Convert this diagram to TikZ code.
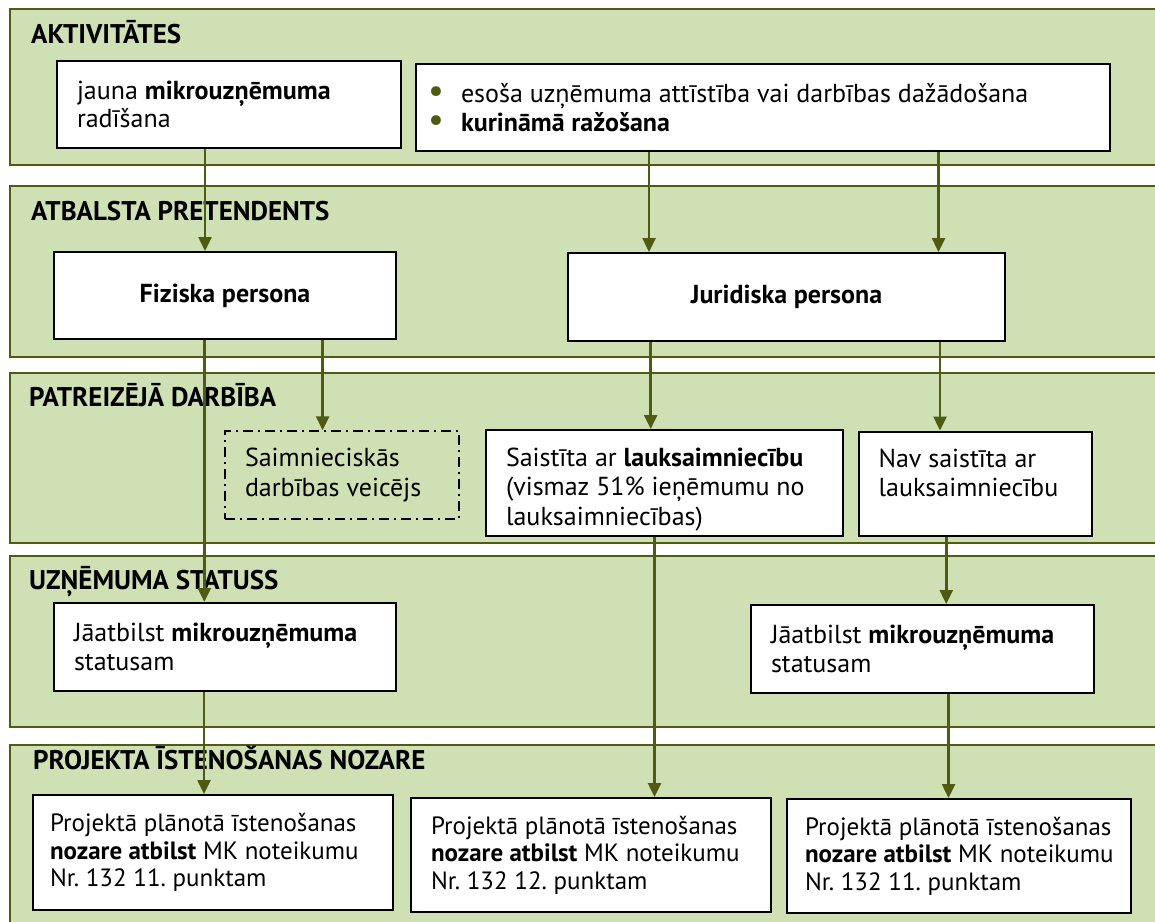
\documentclass[tikz,border=0pt]{standalone}
\usepackage{fontspec}
\setmainfont{PT Sans}
\usetikzlibrary{arrows.meta}
\definecolor{bandfill}{HTML}{CFE0B4}
\definecolor{olivel}{HTML}{4F5B12}
\newcommand{\mybul}{\makebox[33pt][l]{\raisebox{0pt}[0pt][0pt]{\textcolor{olivel}{\scalebox{1.35}{•}}}}}
\newcommand{\bxl}{\spaceskip=0pt\xspaceskip=0pt\leftskip=0pt\rightskip=0pt plus 1fil\parfillskip=0pt plus 1fil\relax}
\begin{document}
\frenchspacing
\begin{tikzpicture}[x=1pt,y=-1pt,
  band/.style={fill=bandfill,draw=olivel,line width=2pt},
  box/.style={draw=black,fill=white,line width=2pt,inner xsep=20pt,inner ysep=0pt,align=left,
    font=\fontsize{26}{29.5}\selectfont},
  cbox/.style={draw=black,fill=white,line width=2pt,inner sep=0pt,align=center,
    font=\fontsize{26}{29.5}\selectfont\bfseries},
  pbox/.style={box,font=\fontsize{25}{27.5}\selectfont},
  dbox/.style={box,fill=none,line width=1.4pt,dash pattern=on 10pt off 5pt on 2pt off 5pt},
  arr/.style={draw=olivel,line width=2.5pt,-{Triangle[width=13pt,length=14pt]}},
  lane/.style={anchor=base west,inner sep=0pt,font=\fontsize{27}{30}\selectfont\bfseries}]
\useasboundingbox (0,0) rectangle (1155,921);
\clip (0,0) rectangle (1155,921);
% bands
\path[band] (9.5,9) rectangle (1170,165);
\path[band] (9.5,186) rectangle (1170,357);
\path[band] (9.5,373) rectangle (1170,543);
\path[band] (9.5,555.5) rectangle (1170,727);
\path[band] (9.5,745) rectangle (1170,940);
% lane titles
\node[lane] (t1) at (31,43) {AKTIVITĀTES};
\node[lane] (t2) at (31,220) {ATBALSTA PRETENDENTS};
\node[lane] (t3) at (29,406.5) {PATREIZĒJĀ DARBĪBA};
\node[lane] (t4) at (29,589) {UZŅĒMUMA STATUSS};
\node[lane] (t5) at (33,769) {PROJEKTA ĪSTENOŠANAS NOZARE};
% boxes
\node[box,text width=304pt,minimum height=87pt,font=\fontsize{26}{28.5}\selectfont] (jauna) at (229,104.5)
  {\bxl jauna \textbf{mikrouzņēmuma}\\radīšana};
\node[box,inner xsep=12pt,text width=670pt,minimum height=87pt] (bul) at (763,107.5)
  {\bxl\mybul esoša uzņēmuma attīstība vai darbības dažādošana\\
   \mybul\textbf{kurināmā ražošana}};
\node[cbox,minimum width=342pt,minimum height=87pt] (fiz) at (225,295.5)
  {Fiziska persona};
\node[cbox,minimum width=437pt,minimum height=88pt] (jur) at (786.5,297)
  {Juridiska persona};
\node[dbox,text width=194pt,minimum height=88pt] (saim) at (342,475)
  {\bxl Saimnieciskās\\darbības veicējs};
\node[box,text width=317pt,minimum height=105.5pt] (sais) at (664.5,482.75)
  {\bxl\rule{0pt}{33pt}Saistīta ar \textbf{lauksaimniecību}\\(vismaz 51\% ieņēmumu no\\lauksaimniecības)\rule[-7pt]{0pt}{7pt}};
\node[box,text width=193.5pt,minimum height=104pt] (nav) at (975.25,483.5)
  {\bxl\rule{0pt}{33pt}Nav saistīta ar\\lauksaimniecību\\\rule[-7pt]{0pt}{7pt}};
\node[box,text width=302pt,minimum height=88pt] (jaL) at (225,647)
  {\bxl Jāatbilst \textbf{mikrouzņēmuma}\\statusam};
\node[box,text width=303pt,minimum height=88pt] (jaR) at (922.5,649)
  {\bxl Jāatbilst \textbf{mikrouzņēmuma}\\statusam};
\node[pbox,inner xsep=17pt,text width=326pt,minimum height=115pt] (pL) at (213,852.5)
  {\bxl\mbox{Projektā plānotā īstenošanas}\\\mbox{\textbf{nozare atbilst} MK noteikumu}\\\mbox{Nr. 132 11. punktam}};
\node[pbox,inner xsep=20pt,text width=320pt,minimum height=114pt] (pM) at (591,855)
  {\bxl\mbox{Projektā plānotā īstenošanas}\\\mbox{\textbf{nozare atbilst} MK noteikumu}\\\mbox{Nr. 132 12. punktam}};
\node[pbox,inner xsep=18pt,text width=308pt,minimum height=114pt] (pR) at (959,856)
  {\bxl\mbox{Projektā plānotā īstenošanas}\\\mbox{\textbf{nozare atbilst} MK noteikumu}\\\mbox{Nr. 132 11. punktam}};
% connectors
\draw[arr] ([xshift=-24pt]jauna.south) -- ([xshift=-24pt]jauna.south |- fiz.north);
\draw[arr] ([xshift=-114pt]bul.south) -- ([xshift=-114pt]bul.south |- jur.north);
\draw[arr] ([xshift=175.5pt]bul.south) -- ([xshift=175.5pt]bul.south |- jur.north);
\draw[arr] ([xshift=97.6pt]fiz.south) -- ([xshift=97.6pt]fiz.south |- saim.north);
\draw[arr] ([xshift=-20.7pt]fiz.south) -- ([xshift=-20.7pt]fiz.south |- jaL.north);
\draw[arr] ([xshift=-135.8pt]jur.south) -- ([xshift=-135.8pt]jur.south |- sais.north);
\draw[arr] ([xshift=153.5pt]jur.south) -- ([xshift=153.5pt]jur.south |- nav.north);
\draw[arr] ([xshift=-10pt]sais.south) -- ([xshift=-10pt]sais.south |- pM.north);
\draw[arr] ([xshift=-29pt]nav.south) -- ([xshift=-29pt]nav.south |- jaR.north);
\draw[arr] ([xshift=-21pt]jaL.south) -- ([xshift=-21pt]jaL.south |- pL.north);
\draw[arr] ([xshift=26pt]jaR.south) -- ([xshift=26pt]jaR.south |- pR.north);
\end{tikzpicture}
\end{document}
